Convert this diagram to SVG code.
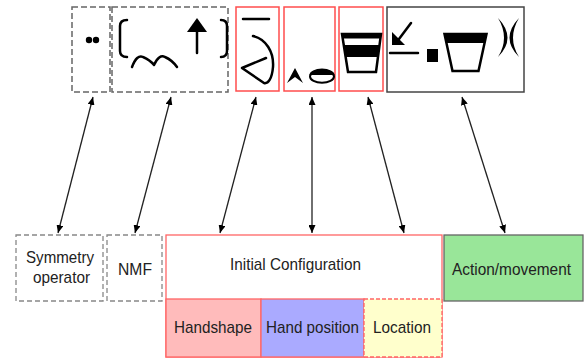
<svg xmlns="http://www.w3.org/2000/svg" width="584" height="358" viewBox="0 0 584 358">
<style>
.dash{fill:#fff;stroke:#666;stroke-width:1.5;stroke-dasharray:6 3}
.dashb{fill:#fff;stroke:#888;stroke-width:1.3;stroke-dasharray:5 3}
.red{fill:#fff;stroke:#ff4d4d;stroke-width:1.5}
.blk{fill:#fff;stroke:#444;stroke-width:1.5}
.g{fill:none;stroke:#000;stroke-width:2.5;stroke-linecap:round;stroke-linejoin:round}
.f{fill:#000}
.t{font-family:"Liberation Sans",Arial,sans-serif;font-size:17px;fill:#222;text-anchor:middle}
.c{stroke:#222;stroke-width:1.3;fill:none;marker-start:url(#a);marker-end:url(#a)}
</style>
<defs>
<marker id="a" viewBox="0 0 8 7" refX="8" refY="3.5" markerWidth="8" markerHeight="7" markerUnits="userSpaceOnUse" orient="auto-start-reverse">
<path d="M0,0 L8,3.5 L0,7 z" fill="#000"/>
</marker>
</defs>
<rect width="584" height="358" fill="#fff"/>

<g id="sym-top">
<rect class="dash" x="72" y="7" width="38" height="85"/>
<circle class="f" cx="89" cy="40" r="3.2"/>
<circle class="f" cx="96" cy="40" r="3.2"/>
</g>

<g id="nmf-top">
<rect class="dash" x="112" y="7" width="116" height="85"/>
<path class="g" d="M127,20 Q120,20 120,26 L120,51 Q120,57 127,57"/>
<path class="g" d="M221,20 Q227,20 227,26 L227,51 Q227,57 221,57"/>
<path class="g" d="M132,67 Q137,54 143,57 Q150,60 154,65 Q159,54 165,57 Q172,60 177,67" stroke-width="2.2"/>
<line class="g" x1="197" y1="30" x2="197" y2="53"/>
<path class="f" d="M197,18 L207,32 L187,32 z"/>
</g>

<g id="handshape-top">
<rect class="red" x="236" y="7" width="43" height="84"/>
<line class="g" x1="243" y1="19" x2="269" y2="19" stroke-linecap="butt"/>
<path class="g" d="M253,36 C266,39 274,52 273,67 C272,79 268,84 264,83 L242,68 L266,58"/>
</g>

<g id="handpos-top">
<rect class="red" x="284" y="7" width="51" height="84"/>
<path class="f" d="M295,68 L303,83 L295,77 L287,83 z"/>
<path class="f" d="M309.5,75 A12.5,6.5 0 0 1 334.5,75 z"/>
<ellipse cx="322" cy="76.5" rx="12" ry="6.2" fill="none" stroke="#000" stroke-width="2"/>
</g>

<g id="location-top">
<rect class="red" x="339" y="7" width="44" height="84"/>
<path d="M342,34 L381,34 L376,72 L348,72 z" fill="none" stroke="#000" stroke-width="2.5" stroke-linejoin="miter"/>
<path class="f" d="M342,34 L381,34 L380.4,38.5 L342.7,38.5 z"/>
<path class="f" d="M343.7,45 L379.6,45 L378.1,57 L345.5,57 z"/>
</g>

<g id="action-top">
<rect class="blk" x="387" y="7" width="137" height="85"/>
<line class="g" x1="399" y1="39" x2="411" y2="23" stroke-width="3" stroke-linecap="butt"/>
<path class="f" d="M392,32 L392,45 L405,45 z"/>
<line class="g" x1="390" y1="53" x2="418" y2="53" stroke-linecap="butt"/>
<rect class="f" x="427" y="49" width="11" height="13"/>
<path d="M444.5,34 L486.5,34 L478.5,71 L452.5,71 z" fill="none" stroke="#000" stroke-width="2.5"/>
<path class="f" d="M444,33 L487,33 L485,43 L446,43 z"/>
<path class="f" d="M498,18 Q517,38 498,57 Q510,38 498,18 z"/>
<path class="f" d="M519,18 Q500,38 519,57 Q507,38 519,18 z"/>
</g>

<g id="connectors">
<line class="c" x1="93" y1="97" x2="58" y2="233"/>
<line class="c" x1="171" y1="97" x2="135" y2="233"/>
<line class="c" x1="256" y1="97" x2="220" y2="233"/>
<line class="c" x1="312" y1="97" x2="312" y2="233" stroke="#444" stroke-width="1.6"/>
<line class="c" x1="368" y1="97" x2="404" y2="233"/>
<line class="c" x1="462" y1="97" x2="505" y2="233"/>
</g>

<g id="symmetry">
<rect class="dashb" x="16" y="235" width="87" height="66"/>
<text class="t" x="60" y="263" textLength="68" lengthAdjust="spacingAndGlyphs">Symmetry</text>
<text class="t" x="61.5" y="283" textLength="57" lengthAdjust="spacingAndGlyphs">operator</text>
</g>

<g id="nmf">
<rect class="dashb" x="107" y="235" width="55" height="66"/>
<text class="t" x="135" y="275" textLength="34" lengthAdjust="spacingAndGlyphs">NMF</text>
</g>

<g id="initial">
<rect x="166" y="235" width="276" height="122" fill="#fff" stroke="#ff6666" stroke-width="1.3"/>
<text class="t" x="295.5" y="270" textLength="131" lengthAdjust="spacingAndGlyphs">Initial Configuration</text>
</g>

<g id="handshape">
<rect x="166" y="299" width="95" height="58" fill="#ffbbbb" stroke="#ff6666" stroke-width="1.3"/>
<text class="t" x="213" y="333" textLength="78" lengthAdjust="spacingAndGlyphs">Handshape</text>
</g>

<g id="handposition">
<rect x="261" y="299" width="103" height="58" fill="#aaaaff" stroke="#ff6666" stroke-width="1.3"/>
<text class="t" x="312.5" y="333" textLength="93" lengthAdjust="spacingAndGlyphs">Hand position</text>
</g>

<g id="location">
<rect x="364" y="299" width="78" height="58" fill="#ffffcc" stroke="#ff6666" stroke-width="1.3" stroke-dasharray="4 2"/>
<text class="t" x="402" y="333" textLength="58" lengthAdjust="spacingAndGlyphs">Location</text>
</g>

<g id="action">
<rect x="444" y="235" width="139" height="66" fill="#99e699" stroke="#666" stroke-width="1.3"/>
<text class="t" x="511.5" y="275" textLength="119" lengthAdjust="spacingAndGlyphs">Action/movement</text>
</g>
</svg>
